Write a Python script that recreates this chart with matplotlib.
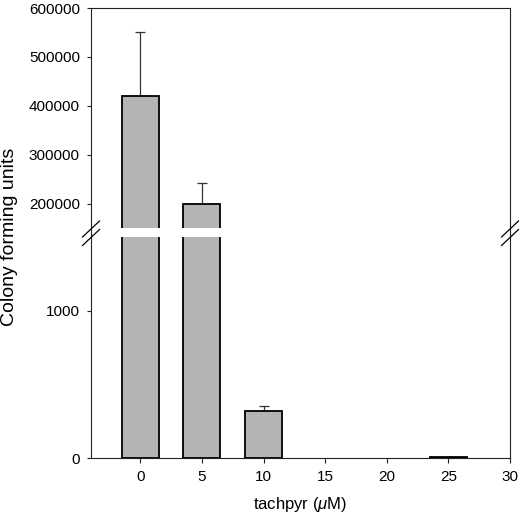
import matplotlib
matplotlib.use("Agg")
import matplotlib.pyplot as plt
from matplotlib.lines import Line2D
import numpy as np

plt.rcParams['font.family'] = ['Liberation Sans', 'DejaVu Sans']
plt.rcParams['mathtext.fontset'] = 'custom'
plt.rcParams['mathtext.rm'] = 'Liberation Sans'
plt.rcParams['mathtext.it'] = 'Liberation Sans:italic'

# data
concentrations = [0, 5, 10, 15, 20, 25]
cfu = [420000, 200000, 322, 0, 0, 8]
cfu_err = [130000, 43000, 30, np.nan, np.nan, np.nan]
x_ticks = [0, 5, 10, 15, 20, 25, 30]
upper_ticks = [200000, 300000, 400000, 500000, 600000]
lower_ticks = [0, 1000]

W, H = 520, 518
fig = plt.figure(figsize=(W / 100, H / 100), dpi=100)

def fx(px):
    return px / W

def fy(py):
    return 1 - py / H

L, R = 91, 510
TOP, UB, LT, BOT = 8, 228, 237, 458
ax_top = fig.add_axes([fx(L), fy(UB), fx(R) - fx(L), fy(TOP) - fy(UB)])
ax_bot = fig.add_axes([fx(L), fy(BOT), fx(R) - fx(L), fy(LT) - fy(BOT)])

spine_col = '#222222'
bar_col = '#b4b4b4'

xs = np.array(concentrations, dtype=float)
vals = np.array(cfu, dtype=float)
errs = np.array(cfu_err, dtype=float)
mask = vals > 0

for ax in (ax_top, ax_bot):
    ax.bar(xs[mask], vals[mask], width=3, color=bar_col, edgecolor='black',
           linewidth=1.3, zorder=2)
    emask = mask & ~np.isnan(errs)
    ax.errorbar(xs[emask], vals[emask],
                yerr=[np.zeros(emask.sum()), errs[emask]],
                fmt='none', ecolor='#333333', elinewidth=0.9, capsize=3.3,
                capthick=0.9, zorder=1)
    ax.set_xlim(-4, 30)
    for s in ax.spines.values():
        s.set_color(spine_col)
        s.set_linewidth(0.8)
    ax.tick_params(axis='both', direction='out', length=3, width=0.8,
                   color=spine_col, labelsize=11, pad=5)
    ax.tick_params(axis='y', right=False)

ax_top.set_ylim(150000, 600000)
ax_top.set_yticks(upper_ticks)
ax_top.set_yticklabels([str(t) for t in upper_ticks])
ax_top.spines['bottom'].set_visible(False)
ax_top.tick_params(axis='x', bottom=False, labelbottom=False)

ax_bot.set_ylim(0, 1500)
ax_bot.set_yticks(lower_ticks)
ax_bot.set_yticklabels([str(t) for t in lower_ticks])
ax_bot.spines['top'].set_visible(False)
ax_bot.set_xticks(x_ticks)
ax_bot.set_xticklabels([str(t) for t in x_ticks])
ax_bot.tick_params(axis='x', length=3.5)

# spine connectors and break marks
for xp in (L, R):
    fig.add_artist(Line2D([fx(xp), fx(xp)], [fy(UB), fy(LT)],
                          transform=fig.transFigure, color=spine_col, lw=0.8))
    for yc in (229, 237.5):
        fig.add_artist(Line2D([fx(xp - 8.5), fx(xp + 8.5)],
                              [fy(yc + 8), fy(yc - 8)],
                              transform=fig.transFigure, color='black', lw=0.9))

fig.text(fx(10), fy(237), 'Colony forming units', rotation=90,
         ha='center', va='center', fontsize=14)
fig.text(fx(300.5), fy(504), r'tachpyr ($\mu$M)', ha='center', va='center',
         fontsize=12)

fig.savefig('out.png', dpi=100)
